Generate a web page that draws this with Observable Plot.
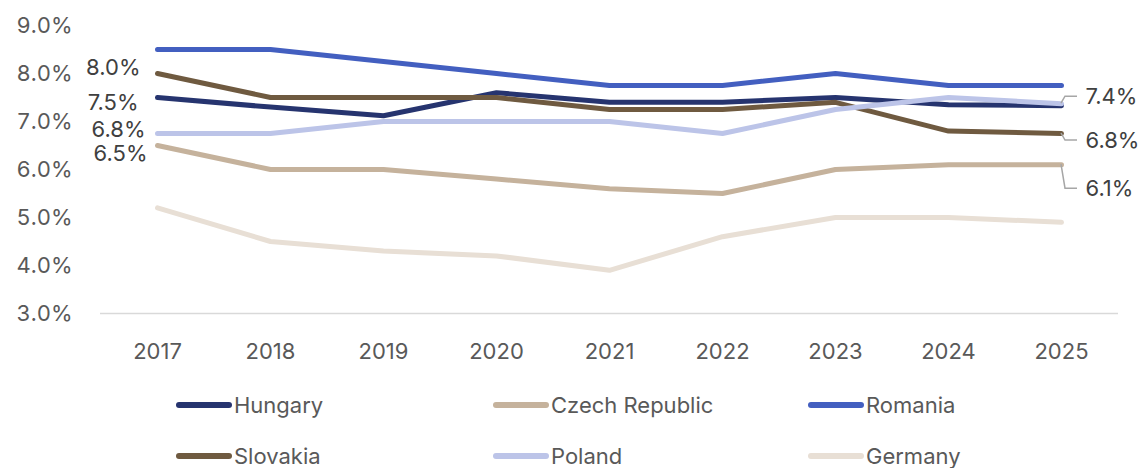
<!DOCTYPE html>
<html>
<head>
<meta charset="utf-8">
<script src="https://cdn.jsdelivr.net/npm/d3@7"></script>
<script src="https://cdn.jsdelivr.net/npm/@observablehq/plot@0.6"></script>
<style>
  html, body { margin: 0; padding: 0; background: #fff; }
  body { width: 1140px; height: 468px; overflow: hidden; font-family: Inter, "Open Sans", sans-serif; }
  #legend { display: grid; grid-template-columns: 317px 315px 300px; margin: 7px 0 0 176px; }
  .item { height: 51px; display: flex; align-items: center; color: #595959; font-size: 22px; }
  .sw { width: 56px; height: 6px; border-radius: 3px; margin-right: 2px; }
</style>
</head>
<body>
<div id="chart"></div>
<div id="legend"></div>
<script>
const years = [2017, 2018, 2019, 2020, 2021, 2022, 2023, 2024, 2025];
const seriesNames = ["Hungary", "Czech Republic", "Romania", "Slovakia", "Poland", "Germany"];
const hungary  = [7.5, 7.3, 7.12, 7.6, 7.4, 7.4, 7.5, 7.35, 7.33];
const czech    = [6.5, 6.0, 6.0, 5.8, 5.6, 5.5, 6.0, 6.1, 6.1];
const romania  = [8.5, 8.5, 8.25, 8.0, 7.75, 7.75, 8.0, 7.75, 7.75];
const slovakia = [8.0, 7.5, 7.5, 7.5, 7.25, 7.25, 7.4, 6.8, 6.75];
const poland   = [6.75, 6.75, 7.0, 7.0, 7.0, 6.75, 7.25, 7.5, 7.37];
const germany  = [5.2, 4.5, 4.3, 4.2, 3.9, 4.6, 5.0, 5.0, 4.9];
const yTicks = [3, 4, 5, 6, 7, 8, 9];
const colors = ["#26346f", "#c5b29c", "#435fc0", "#6f5a40", "#bcc4e8", "#e8dfd5"];

const valuesBySeries = [hungary, czech, romania, slovakia, poland, germany];
const data = [];
seriesNames.forEach((s, i) => years.forEach((y, j) => data.push({series: s, year: String(y), value: valuesBySeries[i][j]})));

// label placement (start labels and end labels)
const startLabels = [
  {series: "Slovakia", dx: -17, dy: -6},
  {series: "Hungary", dx: -19, dy: 5},
  {series: "Poland", dx: -12, dy: -4},
  {series: "Czech Republic", dx: -10, dy: 8}
];
const endLabels = [
  {series: "Poland", dy: -7},
  {series: "Slovakia", dy: 7},
  {series: "Czech Republic", dy: 24}
];
const first = String(years[0]), last = String(years[years.length - 1]);
const pick = (s, yr) => data.find(d => d.series === s && d.year === yr);

const marks = [
  Plot.ruleY([3], {stroke: "#d9d9d9", strokeWidth: 1.5}),
  Plot.line(data, {x: "year", y: "value", z: "series", stroke: "series", strokeWidth: 5, strokeLinecap: "round", strokeLinejoin: "round"})
];
for (const l of startLabels) {
  const d = pick(l.series, first);
  marks.push(Plot.text([d], {x: "year", y: "value", text: d => d.value.toFixed(1) + "%", textAnchor: "end", dx: l.dx, dy: l.dy, fontSize: 22, fill: "#404040"}));
}
for (const l of endLabels) {
  const d = pick(l.series, last);
  marks.push(Plot.text([d], {x: "year", y: "value", text: d => d.value.toFixed(1) + "%", textAnchor: "start", dx: 24, dy: l.dy, fontSize: 22, fill: "#404040"}));
}

const chart = Plot.plot({
  width: 1140,
  height: 372,
  marginTop: 25,
  marginBottom: 59,
  marginLeft: 100,
  marginRight: 22,
  style: {fontFamily: "Inter, 'Open Sans', sans-serif", fontSize: "22px", color: "#595959", background: "#fff"},
  x: {type: "point", domain: years.map(String), padding: 0.5, tickSize: 0, tickPadding: 30, label: null},
  y: {domain: [3, 9], ticks: yTicks, tickSize: 0, tickPadding: 28, tickFormat: d => d.toFixed(1) + "%", label: null},
  color: {domain: seriesNames, range: colors},
  marks
});
document.getElementById("chart").appendChild(chart);

// leader lines for end labels, positioned via the chart's scales
const xs = chart.scale("x"), ys = chart.scale("y");
const svg = d3.select(chart);
const g = svg.append("g").attr("fill", "none").attr("stroke", "#a6a6a6").attr("stroke-width", 1.5);
for (const l of endLabels) {
  const d = pick(l.series, last);
  const px = xs.apply(d.year), py = ys.apply(d.value);
  const ty = py + l.dy;
  g.append("path").attr("d", `M${px},${py} L${px + 4},${ty} L${px + 16},${ty}`);
}

// legend
const legend = document.getElementById("legend");
seriesNames.forEach((s, i) => {
  const el = document.createElement("div");
  el.className = "item";
  el.innerHTML = `<span class="sw" style="background:${colors[i]}"></span><span>${s}</span>`;
  legend.appendChild(el);
});
</script>
</body>
</html>
